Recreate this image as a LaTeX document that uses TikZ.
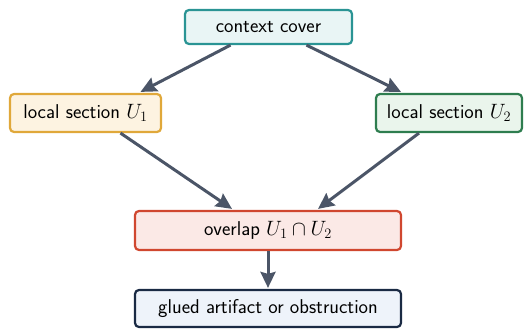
\documentclass[tikz,border=0pt]{standalone}
\usetikzlibrary{arrows.meta,calc}
\definecolor{arrowc}{HTML}{4B5567}
\definecolor{ctxd}{HTML}{2A9494}\definecolor{ctxf}{HTML}{E9F5F5}
\definecolor{uad}{HTML}{E0A83A}\definecolor{uaf}{HTML}{FDF3E1}
\definecolor{ubd}{HTML}{2E7D4F}\definecolor{ubf}{HTML}{EAF5EC}
\definecolor{ovd}{HTML}{D0472F}\definecolor{ovf}{HTML}{FBE9E6}
\definecolor{gld}{HTML}{1A2A44}\definecolor{glf}{HTML}{EEF3FA}
\begin{document}
\begin{tikzpicture}[x=1pt,y=-1pt,
  box/.style={draw, line width=2.2pt, rounded corners=4pt, inner sep=0pt, anchor=center,
    font=\sffamily\fontsize{20}{24}\selectfont},
  arr/.style={-{Stealth[length=16pt,width=15pt,inset=2pt]}, line width=3pt, draw=arrowc}]
\useasboundingbox (0,0) rectangle (525,329);
\node[box, draw=ctxd, fill=ctxf, minimum width=167pt, minimum height=34pt] (ctx) at (268.5,27) {context cover};
\node[box, draw=uad, fill=uaf, minimum width=151pt, minimum height=38pt] (u1) at (85.5,113) {local section $U_1$};
\node[box, draw=ubd, fill=ubf, minimum width=146pt, minimum height=38pt] (u2) at (449,113) {local section $U_2$};
\node[box, draw=ovd, fill=ovf, minimum width=266pt, minimum height=39pt] (ov) at (268,230.5) {overlap $U_1\cap U_2$};
\node[box, draw=gld, fill=glf, minimum width=266pt, minimum height=37pt] (gl) at (268,308.5) {glued artifact or obstruction};
\draw[arr] ($(ctx.south)+(-38,0)$) -- ($(u1.north)+(55,-1)$);
\draw[arr] ($(ctx.south)+(38,0)$) -- ($(u2.north)+(-48,-1)$);
\draw[arr] ($(u1.south)+(35,0)$) -- ($(ov.north)+(-36,-1)$);
\draw[arr] ($(u2.south)+(-30,0)$) -- ($(ov.north)+(50,-1)$);
\draw[arr] (ov.south) -- ($(gl.north)+(0,-1)$);
\end{tikzpicture}
\end{document}
